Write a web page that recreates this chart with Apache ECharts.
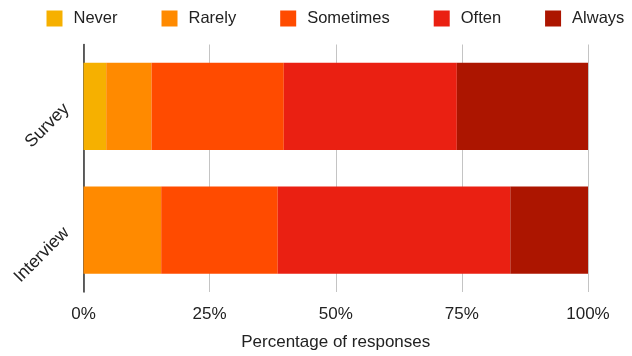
<!DOCTYPE html>
<html>
<head>
<meta charset="utf-8">
<style>
  html, body { margin: 0; padding: 0; background: #fff; }
  #chart { width: 632px; height: 356px; }
</style>
<script src="https://cdn.jsdelivr.net/npm/echarts@6/dist/echarts.min.js"></script>
</head>
<body>
<div id="chart"></div>
<script>
// Response groups, top to bottom
const categories = ['Survey', 'Interview'];

// Share of responses (%) per frequency level, one value per group
const never     = [4.5, 0];
const rarely    = [9.0, 15.4];
const sometimes = [26.2, 23.1];
const often     = [34.3, 46.1];
const always    = [26.0, 15.4];

const xTicks = [0, 25, 50, 75, 100];

const seriesNames = ['Never', 'Rarely', 'Sometimes', 'Often', 'Always'];
const seriesData = [never, rarely, sometimes, often, always];
const colors = ['#F6B000', '#FF8A00', '#FF4B00', '#EA2012', '#AC1500'];

const font = '"Liberation Sans", Arial, Helvetica, sans-serif';

const chart = echarts.init(document.getElementById('chart'), null, { renderer: 'canvas' });

chart.setOption({
  animation: false,
  color: colors,
  textStyle: { fontFamily: font },
  legend: {
    top: 10,
    left: 46.5,
    width: 585,
    padding: 0,
    itemWidth: 16,
    itemHeight: 16,
    itemGap: 44,
    icon: 'rect',
    textStyle: { fontSize: 16.5, color: '#222', fontFamily: font, padding: [0, 0, 0, 6] },
    data: seriesNames
  },
  grid: { left: 83.5, right: 44, top: 44.5, bottom: 60 },
  xAxis: {
    type: 'value',
    min: xTicks[0],
    max: xTicks[xTicks.length - 1],
    interval: 25,
    name: 'Percentage of responses',
    nameLocation: 'middle',
    nameGap: 42,
    nameTextStyle: { fontSize: 17, color: '#222', fontFamily: font },
    axisLine: { show: false },
    axisTick: { show: false },
    axisLabel: { formatter: '{value}%', fontSize: 17, color: '#222', margin: 14, fontFamily: font },
    splitLine: { show: true, lineStyle: { color: '#c4c4c4', width: 1 } }
  },
  yAxis: {
    type: 'category',
    inverse: true,
    data: categories,
    axisLine: { show: true, lineStyle: { color: '#333', width: 1.5 } },
    axisTick: { show: false },
    axisLabel: { rotate: 45, fontSize: 17.5, color: '#222', margin: 17, fontFamily: font }
  },
  series: seriesNames.map((name, i) => ({
    name: name,
    type: 'bar',
    stack: 'total',
    barCategoryGap: '29.6%',
    data: seriesData[i],
    itemStyle: { color: colors[i] }
  }))
});
</script>
</body>
</html>
